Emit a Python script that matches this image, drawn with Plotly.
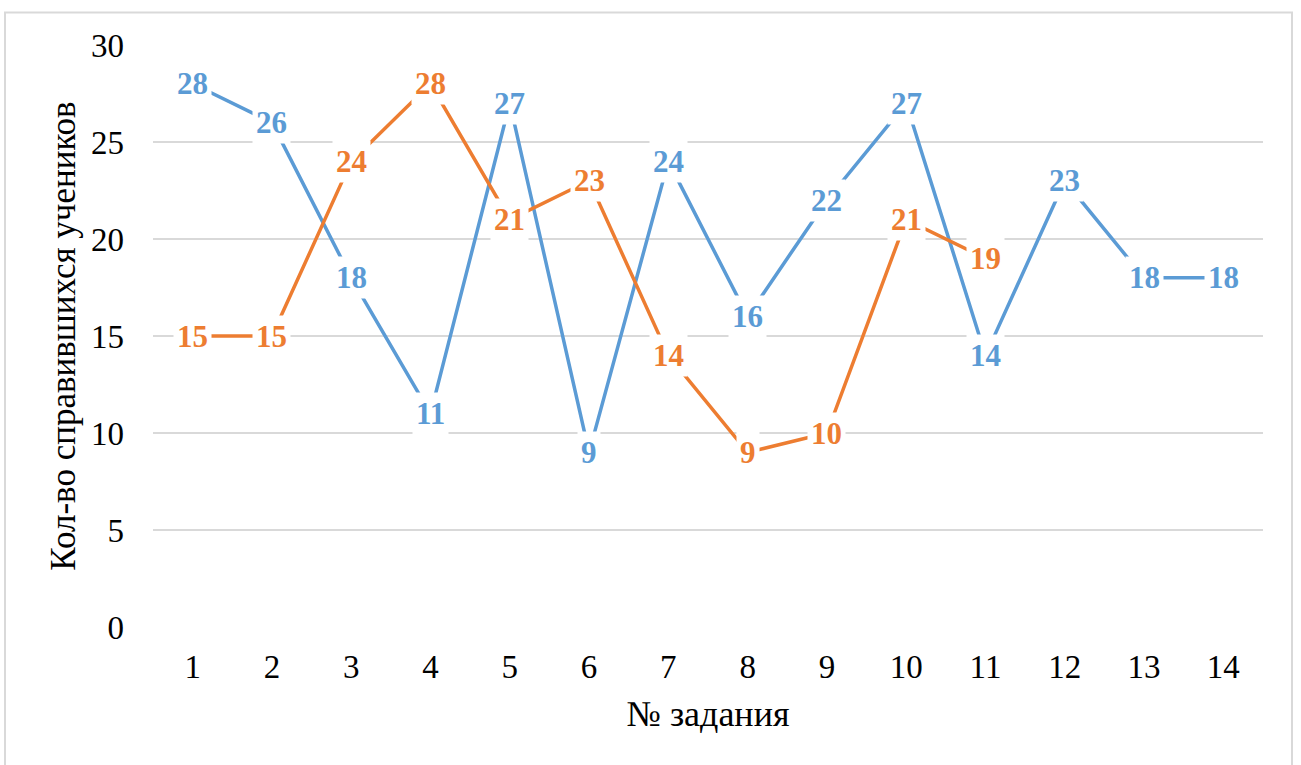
import plotly.graph_objects as go

# Task numbers and counts of students who solved each task
tasks = list(range(1, 15))
series_blue = [28, 26, 18, 11, 27, 9, 24, 16, 22, 27, 14, 23, 18, 18]
series_orange = [15, 15, 24, 28, 21, 23, 14, 9, 10, 21, 19]
y_ticks = [0, 5, 10, 15, 20, 25, 30]

BLUE = "#5B9BD5"
ORANGE = "#ED7D31"
SERIF = "Liberation Serif"

fig = go.Figure()
for vals, color in ((series_blue, BLUE), (series_orange, ORANGE)):
    fig.add_trace(go.Scatter(
        x=tasks[:len(vals)], y=vals, mode="lines",
        line=dict(color=color, width=3.5), hoverinfo="skip", showlegend=False,
    ))

annotations = []
for vals, color in ((series_blue, BLUE), (series_orange, ORANGE)):
    for x, v in zip(tasks, vals):
        annotations.append(dict(
            x=x, y=v, xref="x", yref="y", text=f"<b>{v}</b>", showarrow=False,
            xanchor="center", yanchor="middle",
            font=dict(family=SERIF, size=31, color=color),
            bgcolor="white", borderpad=3,
        ))

fig.update_layout(
    width=1301, height=765,
    margin=dict(l=153, r=38, t=44.5, b=138, autoexpand=False),
    paper_bgcolor="white", plot_bgcolor="white",
    annotations=annotations,
    xaxis=dict(
        range=[0.5, 14.5], tickvals=tasks, ticktext=[str(t) for t in tasks],
        showgrid=False, zeroline=False, showline=False, ticks="",
        tickfont=dict(family=SERIF, size=33, color="#000"),
        ticklabelstandoff=17,
        title=dict(text="№ задания", font=dict(family=SERIF, size=36, color="#000"), standoff=16),
    ),
    yaxis=dict(
        range=[0, 30], tickvals=y_ticks, showgrid=True, gridcolor="#D9D9D9", gridwidth=1.5,
        zeroline=False, showline=False, ticks="",
        tickfont=dict(family=SERIF, size=33, color="#000"),
        ticklabelstandoff=28,
        title=dict(text="Кол-во справившихся учеников", font=dict(family=SERIF, size=35, color="#000"), standoff=4),
    ),
    shapes=[dict(
        type="rect", xref="paper", yref="paper",
        x0=(5 - 153) / 1110, x1=(1292 - 153) / 1110,
        y0=(627 - 775) / 582.5, y1=(627 - 12) / 582.5,
        line=dict(color="#D9D9D9", width=2), fillcolor="rgba(0,0,0,0)", layer="below",
    )],
)

fig.write_html("out.html")
